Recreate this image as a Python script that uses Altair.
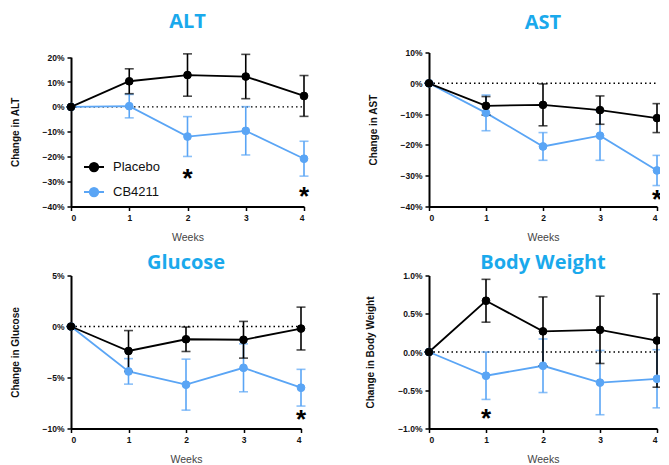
import altair as alt
import pandas as pd

weeks = [0, 1, 2, 3, 4]
groups = ["Placebo", "CB4211"]

alt_placebo = [0, 10.3, 12.8, 12.2, 4.4]
alt_placebo_err = [0, 5.0, 8.5, 8.9, 8.2]
alt_cb = [0, 0.3, -11.9, -9.6, -20.8]
alt_cb_err = [0, 4.7, 8.0, 9.7, 7.0]

ast_placebo = [0, -7.3, -7.0, -8.7, -11.3]
ast_placebo_err = [0, 3.0, 6.8, 4.6, 4.7]
ast_cb = [0, -9.6, -20.5, -17.0, -28.3]
ast_cb_err = [0, 5.8, 4.5, 8.0, 4.9]

glu_placebo = [0, -2.4, -1.25, -1.3, -0.2]
glu_placebo_err = [0, 2.0, 1.2, 1.8, 2.1]
glu_cb = [0, -4.4, -5.7, -4.05, -6.0]
glu_cb_err = [0, 1.25, 2.5, 2.35, 1.8]

bw_placebo = [0, 0.67, 0.27, 0.29, 0.15]
bw_placebo_err = [0, 0.28, 0.45, 0.44, 0.61]
bw_cb = [0, -0.31, -0.18, -0.40, -0.35]
bw_cb_err = [0, 0.31, 0.35, 0.42, 0.38]

alt_star_x, alt_star_y = [2, 4], [-27.5, -34.7]
ast_star_x, ast_star_y = [4], [-36.5]
glu_star_x, glu_star_y = [4], [-8.8]
bw_star_x, bw_star_y = [1], [-0.83]

BLUE = "#5aa5f5"
TITLE_BLUE = "#1aa9ec"
COLORS = {"Placebo": "#000000", "CB4211": BLUE}

LEG_PATH = "M-1,0L1,0M-0.42,0A0.42,0.42,0,1,1,0.42,0A0.42,0.42,0,1,1,-0.42,0Z"


def make_df(group, mean, err):
    return pd.DataFrame({
        "week": weeks, "value": mean, "group": group,
        "lo": [m - e for m, e in zip(mean, err)],
        "hi": [m + e for m, e in zip(mean, err)],
    })


def panel(title, ylabel, pm, pe, cm, ce, ydom, yticks, fmt, sx, sy, width, height, toff,
          top_gap=0.0, legend=False):
    dp = make_df("Placebo", pm, pe)
    dc = make_df("CB4211", cm, ce)
    both = pd.concat([dc, dp], ignore_index=True)
    xscale = alt.Scale(domain=[0, 4], nice=False, zero=False)
    xaxis = alt.Axis(values=weeks, title="Weeks", format="d", labelOverlap=False)
    yscale = alt.Scale(domain=ydom, nice=False, zero=False, range=[height, top_gap])
    yaxis = alt.Axis(values=yticks, title=ylabel, labelOverlap=False,
                     labelExpr="format(datum.value, '%s') + '%%'" % fmt)

    def X(f):
        return alt.X(f, scale=xscale, axis=xaxis)

    def Y(f):
        return alt.Y(f, scale=yscale, axis=yaxis)

    zero = alt.Chart(pd.DataFrame({"x": [0], "x2": [4], "y": [0]})).mark_rule(
        color="black", strokeDash=[1.5, 3], strokeWidth=1.4
    ).encode(x=X("x:Q"), x2="x2:Q", y=Y("y:Q"))

    layers = [zero]
    for d in (dc, dp):
        col = COLORS[d["group"][0]]
        base = alt.Chart(d)
        layers.append(base.mark_rule(color=col, strokeWidth=1.6).encode(
            x=X("week:Q"), y=Y("lo:Q"), y2="hi:Q"))
        cap = base.mark_tick(color=col, orient="horizontal", size=9, thickness=1.6)
        layers.append(cap.encode(x=X("week:Q"), y=Y("lo:Q")))
        layers.append(cap.encode(x=X("week:Q"), y=Y("hi:Q")))
        layers.append(base.mark_line(color=col, strokeWidth=1.8).encode(x=X("week:Q"), y=Y("value:Q")))

    cscale = alt.Scale(domain=groups, range=[COLORS[g] for g in groups])
    if legend:
        leg = alt.Legend(title=None, orient="none", legendX=12, legendY=99 + top_gap,
                         symbolType=LEG_PATH, symbolSize=400, symbolStrokeWidth=2,
                         labelFontSize=13, labelFont="Liberation Sans", labelColor="#111",
                         labelOffset=8, rowPadding=5, padding=0)
    else:
        leg = None
    layers.append(alt.Chart(both).mark_point(filled=True, size=60, opacity=1, strokeWidth=1).encode(
        x=X("week:Q"), y=Y("value:Q"),
        fill=alt.Fill("group:N", scale=cscale, legend=leg),
        stroke=alt.Stroke("group:N", scale=cscale, legend=leg)))

    stars = pd.DataFrame({"week": sx, "y": sy, "t": ["*"] * len(sx)})
    layers.append(alt.Chart(stars).mark_text(
        fontSize=26, fontWeight="bold", font="Liberation Sans", color="black",
        baseline="middle", dy=4).encode(x=X("week:Q"), y=Y("y:Q"), text="t:N"))

    return alt.layer(*layers).properties(
        width=width, height=height,
        title=alt.TitleParams(title, anchor="middle", frame="group", fontSize=20,
                              font="Open Sans", fontWeight="bold", color=TITLE_BLUE, offset=toff),
    ).resolve_scale(fill="independent", stroke="independent")


p1 = panel("ALT", "Change in ALT", alt_placebo, alt_placebo_err, alt_cb, alt_cb_err,
           [-40, 20], [-40, -30, -20, -10, 0, 10, 20], ".0f", alt_star_x, alt_star_y, 233, 154, 20.5,
           top_gap=4.6, legend=True)
p2 = panel("AST", "Change in AST", ast_placebo, ast_placebo_err, ast_cb, ast_cb_err,
           [-40, 10], [-40, -30, -20, -10, 0, 10], ".0f", ast_star_x, ast_star_y, 228, 154, 16)
p3 = panel("Glucose", "Change in Glucose", glu_placebo, glu_placebo_err, glu_cb, glu_cb_err,
           [-10, 5], [-10, -5, 0, 5], ".0f", glu_star_x, glu_star_y, 230, 153, -1)
p4 = panel("Body Weight", "Change in Body Weight", bw_placebo, bw_placebo_err, bw_cb, bw_cb_err,
           [-1, 1], [-1, -0.5, 0, 0.5, 1], ".1f", bw_star_x, bw_star_y, 228, 153, -1)

top = alt.hconcat(p1, p2, spacing=58).resolve_scale(fill="independent", stroke="independent")
bottom = alt.hconcat(p3, p4, spacing=58).resolve_scale(fill="independent", stroke="independent")
chart = alt.vconcat(top, bottom, spacing=9).resolve_scale(
    fill="independent", stroke="independent"
).properties(
    padding={"left": 2, "top": 3.5, "right": -3, "bottom": 0}
).configure_view(stroke=None).configure_axis(
    grid=False, domainColor="black", domainWidth=2, tickColor="black", tickWidth=1.5,
    tickSize=4, labelFont="Liberation Sans", labelFontWeight="bold", labelFontSize=8.5,
    labelColor="#111", labelPadding=3, titleFont="Liberation Sans",
).configure_axisY(
    titleFontWeight="bold", titleFontSize=10, titleColor="#111", titlePadding=22,
).configure_axisX(
    titleFontWeight="normal", titleFontSize=10.5, titleColor="#444", titlePadding=10.5,
)

chart.save("out.html", embed_options={"renderer": "svg", "actions": False})
